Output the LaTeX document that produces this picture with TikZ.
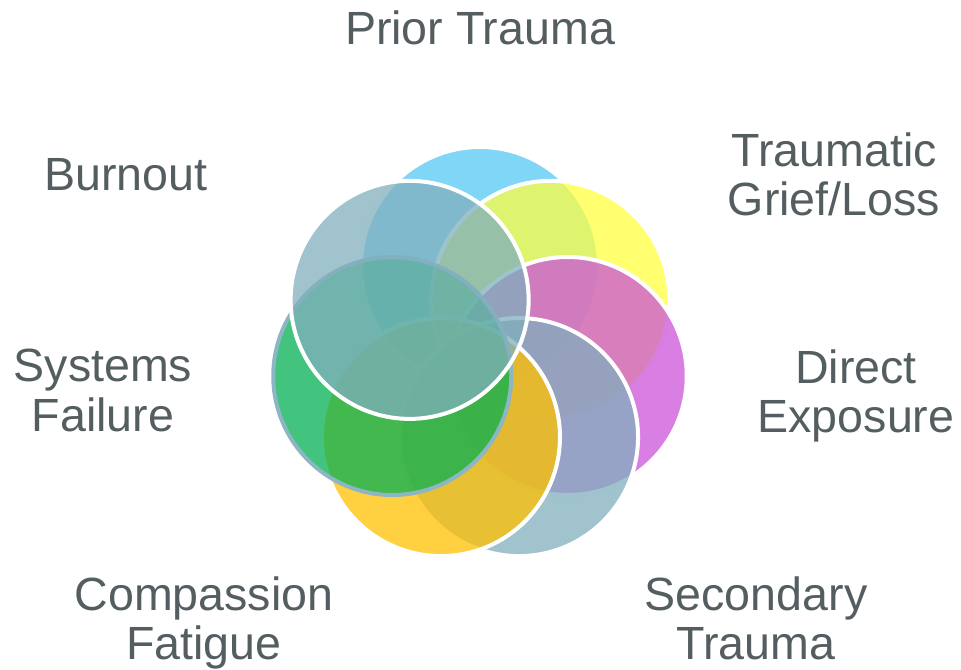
\documentclass[tikz,border=0pt]{standalone}
\usepackage{fontspec}
\setmainfont{Liberation Sans}

\definecolor{labelgray}{RGB}{84,94,96}
\definecolor{priorblue}{RGB}{84,200,244}
\definecolor{griefyellow}{RGB}{255,255,64}
\definecolor{directpink}{RGB}{204,83,216}
\definecolor{slateblue}{RGB}{128,175,189}
\definecolor{fatiguegold}{RGB}{255,192,0}
\definecolor{systemsgreen}{RGB}{3,176,83}
\definecolor{rimgray}{RGB}{140,182,196}

\tikzset{
  petal/.style={circle, minimum size=47.6mm, inner sep=0pt, draw=white,
    line width=0.8mm, fill opacity=0.75},
  caption/.style={anchor=north, align=center, inner sep=0pt, text=labelgray,
    font=\fontsize{26.5pt}{28pt}\selectfont}
}

\begin{document}
\begin{tikzpicture}[x=0.2mm, y=0.2mm]
    \useasboundingbox (0,0) rectangle (961,669);
    \coordinate (hub) at (480,313);

    % seven overlapping circles, drawn clockwise from the top
    \node[petal, fill=priorblue]   (prior)      at ([shift={(90:90)}]hub) {};
    \node[petal, fill=griefyellow] (grief)      at ([shift={(38.57:90)}]hub) {};
    \node[petal, fill=directpink]  (direct)     at ([shift={(-12.86:90)}]hub) {};
    \node[petal, fill=slateblue]   (secondary)  at ([shift={(-64.29:90)}]hub) {};
    \node[petal, fill=fatiguegold] (compassion) at ([shift={(-115.71:90)}]hub) {};
    \node[petal, fill=systemsgreen, draw=rimgray] (systems) at ([shift={(-167.14:90)}]hub) {};
    \node[petal, fill=slateblue]   (burnout)    at ([shift={(141.43:90)}]hub) {};

    % labels
    \node[caption] (priorlabel)      at (480,659) {Prior Trauma};
    \node[caption] (grieflabel)      at (834,537) {Traumatic\\Grief/Loss};
    \node[caption] (burnoutlabel)    at (126,511) {Burnout};
    \node[caption] (directlabel)     at (856,320) {Direct\\Exposure};
    \node[caption] (systemslabel)    at (103,320) {Systems\\Failure};
    \node[caption] (compassionlabel) at (204,93)  {Compassion\\Fatigue};
    \node[caption] (secondarylabel)  at (756,93)  {Secondary\\Trauma};
\end{tikzpicture}
\end{document}
